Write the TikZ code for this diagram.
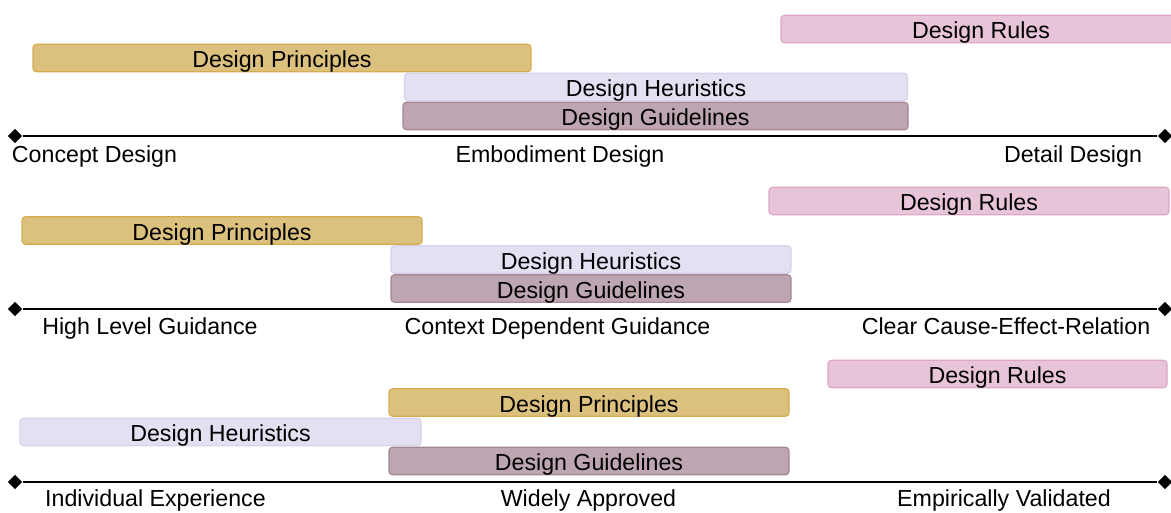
\documentclass[tikz,border=0pt]{standalone}
\usepackage{fontspec}
\setmainfont{Liberation Sans}
\usetikzlibrary{shapes.geometric}

\definecolor{prinfill}{RGB}{219,193,125}
\definecolor{prinline}{RGB}{212,172,78}
\definecolor{heurfill}{RGB}{226,224,241}
\definecolor{heurline}{RGB}{214,210,236}
\definecolor{guidfill}{RGB}{189,166,177}
\definecolor{guidline}{RGB}{165,133,150}
\definecolor{rulefill}{RGB}{232,196,217}
\definecolor{ruleline}{RGB}{221,166,198}

\begin{document}
\begin{tikzpicture}[x=0.03cm, y=-0.03cm,
	font=\fontsize{19.8pt}{23pt}\selectfont,
	stripe/.style={rounded corners=3pt, line width=1pt, minimum width=#1*0.03cm,
		minimum height=23.5pt, inner sep=0pt, text height=16.6pt, text depth=0pt,
		text=black},
	prin/.style={fill=prinfill, draw=prinline},
	heur/.style={fill=heurfill, draw=heurline},
	guid/.style={fill=guidfill, draw=guidline},
	rule/.style={fill=rulefill, draw=ruleline},
	tip/.style={diamond, fill=black, inner sep=0pt, minimum size=12.5pt},
	axis/.style={line width=1.8pt, black},
	lab/.style={text=black, inner sep=0pt, anchor=base}]
	\useasboundingbox (0, 0) rectangle (1171, 513);

	% phases of the design process
	\node[stripe=400, rule]	(rules1) at (981, 29) {Design Rules};
	\node[stripe=498, prin]	(prin1) at (282, 58) {Design Principles};
	\node[stripe=503, heur]	(heur1) at (656, 87) {Design Heuristics};
	\node[stripe=505, guid]	(guid1) at (655.5, 116) {Design Guidelines};

	\node[tip]	(l1) at (15, 136) {};
	\node[tip]	(r1) at (1165, 136) {};
	\draw[axis]	(l1) -- (r1);

	\node[lab]	(concept) at (94.5, 162.5) {Concept Design};
	\node[lab]	(embodiment) at (560, 162.5) {Embodiment Design};
	\node[lab]	(detail) at (1073, 162.5) {Detail Design};

	% level of guidance
	\node[stripe=400, rule]	(rules2) at (969, 201) {Design Rules};
	\node[stripe=400, prin]	(prin2) at (222, 230.5) {Design Principles};
	\node[stripe=400, heur]	(heur2) at (591, 259.5) {Design Heuristics};
	\node[stripe=400, guid]	(guid2) at (591, 288.5) {Design Guidelines};

	\node[tip]	(l2) at (15, 309) {};
	\node[tip]	(r2) at (1165, 309) {};
	\draw[axis]	(l2) -- (r2);

	\node[lab]	(highlevel) at (150, 334.5) {High Level Guidance};
	\node[lab]	(context) at (557.5, 334.5) {Context Dependent Guidance};
	\node[lab]	(causal) at (1006, 334.5) {Clear Cause-Effect-Relation};

	% source of knowledge
	\node[stripe=339, rule]	(rules3) at (997.5, 374) {Design Rules};
	\node[stripe=400, prin]	(prin3) at (589, 402.5) {Design Principles};
	\node[stripe=401, heur]	(heur3) at (220.5, 432) {Design Heuristics};
	\node[stripe=400, guid]	(guid3) at (589, 461) {Design Guidelines};

	\node[tip]	(l3) at (15, 482) {};
	\node[tip]	(r3) at (1165, 482) {};
	\draw[axis]	(l3) -- (r3);

	\node[lab]	(individual) at (155.5, 506) {Individual Experience};
	\node[lab]	(approved) at (588.5, 506) {Widely Approved};
	\node[lab]	(empirical) at (1004, 506) {Empirically Validated};
\end{tikzpicture}
\end{document}
